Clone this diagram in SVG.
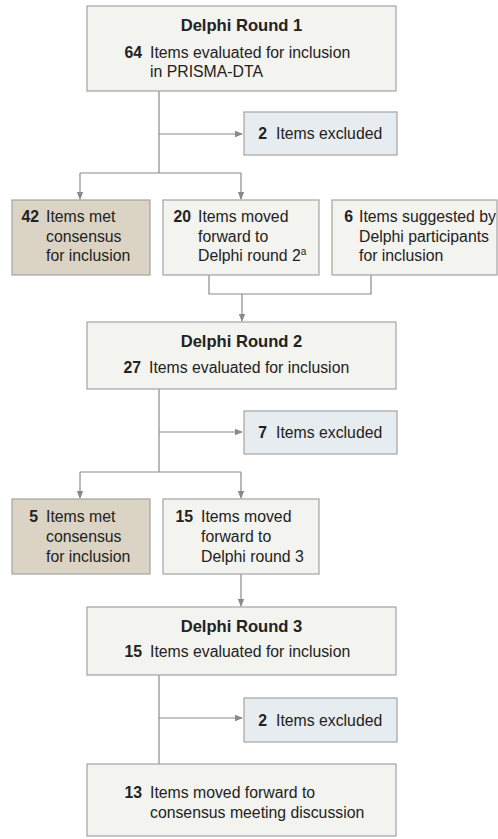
<svg xmlns="http://www.w3.org/2000/svg" width="498" height="839" viewBox="0 0 498 839">
<defs>
<style>
.box{fill:#f3f3ef;stroke:#a3a3a3;stroke-width:1.2}
.met{fill:#dbd3c4;stroke:#a3a3a3;stroke-width:1.2}
.exc{fill:#e6ecef;stroke:#a3a3a3;stroke-width:1.2}
.ln{fill:none;stroke:#8a8a8a;stroke-width:1.2}
.ar{fill:none;stroke:#8a8a8a;stroke-width:1.2;marker-end:url(#ah)}
text{font-family:"Liberation Sans",Arial,sans-serif;fill:#222;font-size:15.8px}
.t{font-weight:bold;font-size:16.6px;text-anchor:middle}
.n{font-weight:bold;text-anchor:end}
</style>
<marker id="ah" markerWidth="8" markerHeight="8" refX="7" refY="4" orient="auto" markerUnits="userSpaceOnUse">
<path d="M0,0.8 L8,4 L0,7.2 Z" fill="#8a8a8a"/>
</marker>
</defs>
<g id="connectors">
<path class="ln" d="M159,91 V173"/>
<path class="ar" d="M159,134 H242"/>
<path class="ln" d="M80,173 H241"/>
<path class="ar" d="M80,173 V199"/>
<path class="ar" d="M241,173 V199"/>
<path class="ln" d="M209,275 V294 H371 V275"/>
<path class="ar" d="M242,294 V321"/>
<path class="ln" d="M159,389 V472"/>
<path class="ar" d="M159,432 H242"/>
<path class="ln" d="M80,472 H241"/>
<path class="ar" d="M80,472 V498"/>
<path class="ar" d="M241,472 V498"/>
<path class="ar" d="M241,574 V606"/>
<path class="ln" d="M159,675 V764"/>
<path class="ar" d="M159,718 H242"/>
</g>
<g id="round1">
<rect class="box" x="87" y="6" width="309" height="85"/>
<text class="t" x="241.5" y="31">Delphi Round 1</text>
<text class="n" x="142" y="58">64</text>
<text x="150" y="58">Items evaluated for inclusion</text>
<text x="150" y="77">in PRISMA-DTA</text>
</g>
<g id="excluded1">
<rect class="exc" x="244" y="112" width="153" height="43"/>
<text class="n" x="267" y="139">2</text>
<text x="276" y="139">Items excluded</text>
</g>
<g id="met42">
<rect class="met" x="12" y="200" width="138" height="75"/>
<text class="n" x="39" y="222">42</text>
<text x="46" y="222">Items met</text>
<text x="46" y="242">consensus</text>
<text x="46" y="261">for inclusion</text>
</g>
<g id="moved20">
<rect class="box" x="163" y="200" width="156" height="75"/>
<text class="n" x="191" y="222">20</text>
<text x="198" y="222">Items moved</text>
<text x="198" y="242">forward to</text>
<text x="198" y="261">Delphi round 2<tspan font-size="10" dy="-6">a</tspan></text>
</g>
<g id="suggested6">
<rect class="box" x="332" y="200" width="165" height="75"/>
<text class="n" x="353" y="222">6</text>
<text x="359" y="222">Items suggested by</text>
<text x="359" y="242">Delphi participants</text>
<text x="359" y="261">for inclusion</text>
</g>
<g id="round2">
<rect class="box" x="87" y="322" width="309" height="67"/>
<text class="t" x="241.5" y="347">Delphi Round 2</text>
<text class="n" x="141" y="373">27</text>
<text x="149" y="373">Items evaluated for inclusion</text>
</g>
<g id="excluded2">
<rect class="exc" x="244" y="411" width="153" height="43"/>
<text class="n" x="267" y="438">7</text>
<text x="276" y="438">Items excluded</text>
</g>
<g id="met5">
<rect class="met" x="12" y="499" width="138" height="75"/>
<text class="n" x="38" y="522">5</text>
<text x="46" y="522">Items met</text>
<text x="46" y="542">consensus</text>
<text x="46" y="562">for inclusion</text>
</g>
<g id="moved15">
<rect class="box" x="163" y="499" width="156" height="75"/>
<text class="n" x="193" y="522">15</text>
<text x="201" y="522">Items moved</text>
<text x="201" y="542">forward to</text>
<text x="201" y="562">Delphi round 3</text>
</g>
<g id="round3">
<rect class="box" x="87" y="607" width="309" height="68"/>
<text class="t" x="241.5" y="632">Delphi Round 3</text>
<text class="n" x="142" y="657">15</text>
<text x="150" y="657">Items evaluated for inclusion</text>
</g>
<g id="excluded3">
<rect class="exc" x="244" y="698" width="153" height="44"/>
<text class="n" x="267" y="726">2</text>
<text x="276" y="726">Items excluded</text>
</g>
<g id="final13">
<rect class="box" x="87" y="764" width="309" height="72"/>
<text class="n" x="142" y="798">13</text>
<text x="150" y="798">Items moved forward to</text>
<text x="150" y="818">consensus meeting discussion</text>
</g>
</svg>
